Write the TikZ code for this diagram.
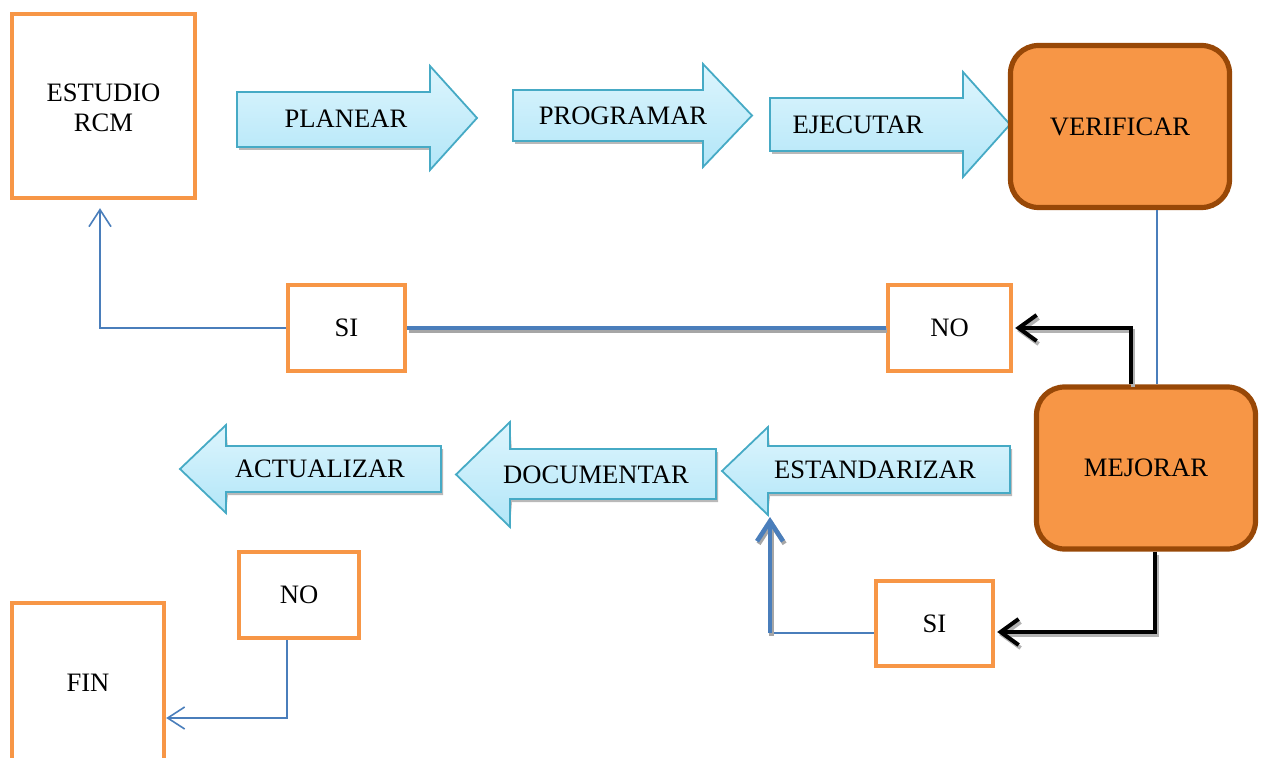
\documentclass[tikz,border=0pt]{standalone}
\usepackage{fontspec}
\setmainfont{Liberation Serif}
\usetikzlibrary{arrows.meta,calc}

\definecolor{boxorange}{HTML}{F79646}
\definecolor{boxbrown}{HTML}{984807}
\definecolor{linkblue}{HTML}{4A7EBB}
\definecolor{arrowedge}{HTML}{46AAC5}
\definecolor{arrowtop}{HTML}{DDF5FD}
\definecolor{arrowbot}{HTML}{B2E6F8}

\tikzset{
  txt/.style={font=\fontsize{13.3}{15}\selectfont, inner sep=0pt},
  obox/.style={draw=boxorange, line width=2.2pt, fill=white,
    font=\fontsize{13.3}{15}\selectfont, align=center},
  rbox/.style={draw=boxbrown, fill=boxorange, line width=2.6pt,
    rounded corners=14pt, font=\fontsize{13.3}{15}\selectfont,
    minimum width=109.5pt, minimum height=81pt},
  thinlink/.style={draw=linkblue, line width=0.8pt},
  thinarrow/.style={thinlink, -{Straight Barb[length=8.5pt,width=11pt,line width=0.8pt]}},
  thickblue/.style={draw=linkblue, line width=2.3pt,
    preaction={draw=gray!70, line width=2.3pt, transform canvas={shift={(0.8pt,-1.3pt)}}}},
  blackarrow/.style={draw=black, line width=2pt,
    -{Straight Barb[length=9pt,width=13pt,line width=2pt]},
    preaction={draw=gray!60, line width=2pt, transform canvas={shift={(1pt,-1.5pt)}}}},
  arrowbody/.style={top color=arrowtop, bottom color=arrowbot,
    draw=arrowedge, line width=0.9pt, line join=miter},
  arrowshadow/.style={fill=gray!55},
}

% block arrow: #1 name, #2 tail x, #3 neck x, #4 tip x,
% #5 body top y, #6 body bottom y, #7 head top y, #8 head bottom y
\newcommand\blockarrow[8]{%
  \coordinate (#1-ht) at (#3,#7);
  \coordinate (#1-hb) at (#3,#8);
  \coordinate (#1-tip) at ($(#4,#7)!0.5!(#4,#8)$);
  \fill[arrowshadow, shift={(2,3)}] (#2,#5) -- (#3,#5) -- (#1-ht) -- (#1-tip)
    -- (#1-hb) -- (#3,#6) -- (#2,#6) -- cycle;
  \shade[arrowbody] (#2,#5) -- (#3,#5) -- (#1-ht) -- (#1-tip)
    -- (#1-hb) -- (#3,#6) -- (#2,#6) -- cycle;
}

\begin{document}
\begin{tikzpicture}[x=0.5pt,y=-0.5pt]
\useasboundingbox (0,0) rectangle (1267,758);

% upper row of process arrows
\blockarrow{pl}{237}{430}{477}{92}{147}{66}{170}
\blockarrow{pr}{513}{703}{752}{90}{141}{64}{167}
\blockarrow{ej}{770}{963}{1010}{98}{151}{72}{177}
\node[txt] (planear) at (346,119) {PLANEAR};
\node[txt] (programar) at (623,116) {PROGRAMAR};
\node[txt] (ejecutar) at (858,125) {EJECUTAR};

% lower row of process arrows
\blockarrow{es}{1010}{768}{722}{446}{493}{427}{515}
\blockarrow{do}{716}{510}{456}{449}{499}{422}{527}
\blockarrow{ac}{441}{226}{180}{446}{492}{425}{513}
\node[txt] (estandarizar) at (875,470) {ESTANDARIZAR};
\node[txt] (documentar) at (596,475) {DOCUMENTAR};
\node[txt] (actualizar) at (320,469) {ACTUALIZAR};

% boxes
\node[obox, minimum width=91.5pt, minimum height=92pt] (estudio) at (103.5,106) {};
\node[txt, align=center] (estudiotxt) at (103.5,108) {ESTUDIO\\RCM};
\node[obox, minimum width=58.5pt, minimum height=43pt] (siA) at (346.5,328) {SI};
\node[obox, minimum width=61.5pt, minimum height=43pt] (noA) at (949.5,328) {NO};
\node[obox, minimum width=58.5pt, minimum height=42.5pt] (siB) at (934.5,623.5) {SI};
\node[obox, minimum width=60pt, minimum height=43pt] (noB) at (299,595) {NO};
\node[obox, minimum width=76pt, minimum height=80pt] (fin) at (88,683) {FIN};
\node[rbox] (verificar) at (1120,126.5) {VERIFICAR};
\node[rbox] (mejorar) at (1146,468) {MEJORAR};

% connectors
\draw[thinlink] ([xshift=18.5pt]verificar.south) -- ([xshift=5.5pt]mejorar.north);
\draw[blackarrow] ([xshift=-7.5pt]mejorar.north) |- ([xshift=1pt]noA.east);
\draw[blackarrow] ([xshift=4.5pt]mejorar.south) |- ([xshift=1pt,yshift=-4.25pt]siB.east);
\draw[thickblue] (siA.east) -- (noA.west);
\draw[thinarrow] (siA.west) -| ([xshift=-1.75pt,yshift=-4pt]estudio.south);
\coordinate (turn) at (770,633);
\draw[thinlink] ([yshift=-4.75pt]siB.west) -- (turn);
\draw[thickblue, -{Straight Barb[length=10pt,width=13pt,line width=2.3pt]}]
  (turn) -- ([xshift=1pt,yshift=-1pt]es-hb);
\draw[thinarrow] ([xshift=-6pt]noB.south) |- ([yshift=-17.5pt]fin.east);
\end{tikzpicture}
\end{document}
